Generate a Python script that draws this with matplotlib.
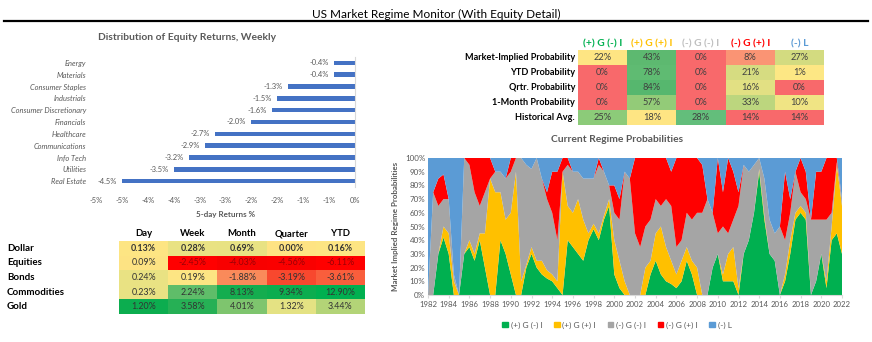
import numpy as np
import matplotlib
matplotlib.use("Agg")
import matplotlib.pyplot as plt
from matplotlib.patches import Rectangle, Patch

plt.rcParams['font.family'] = ['Lato', 'DejaVu Sans']

# ---- data: weekly equity returns ----
sectors = ["Energy", "Materials", "Consumer Staples", "Industrials", "Consumer Discretionary",
           "Financials", "Healthcare", "Communications", "Info Tech", "Utilities", "Real Estate"]
sector_ret = [-0.4, -0.4, -1.3, -1.5, -1.6, -2.0, -2.7, -2.9, -3.2, -3.5, -4.5]
bar_ticks = [-5, -4.5, -4, -3.5, -3, -2.5, -2, -1.5, -1, -0.5, 0]
bar_tick_labels = ["-5%", "-5%", "-4%", "-4%", "-3%", "-3%", "-2%", "-2%", "-1%", "-1%", "0%"]

# ---- data: asset returns table ----
assets = ["Dollar", "Equities", "Bonds", "Commodities", "Gold"]
periods = ["Day", "Week", "Month", "Quarter", "YTD"]
asset_ret = [
    [0.13, 0.28, 0.69, 0.00, 0.16],
    [0.09, -2.45, -4.03, -4.56, -6.11],
    [0.24, 0.19, -1.88, -3.19, -3.61],
    [0.23, 2.24, 8.13, 9.34, 12.90],
    [1.20, 3.58, 4.01, 1.32, 3.44],
]
asset_colors = [
    ["#fde583", "#e9e283", "#e8e283", "#fee383", "#fde583"],
    ["#fde383", "#ff0000", "#f80000", "#fa0000", "#ff0000"],
    ["#e9e283", "#fde583", "#fa8a5a", "#f8482e", "#f95e3c"],
    ["#e9e283", "#5fbd69", "#14ad4f", "#0cad4f", "#00b050"],
    ["#0cad4f", "#26b055", "#7ec56e", "#e4e283", "#b3d477"],
]

# ---- data: regime probability table ----
regimes = ["(+) G (-) I", "(+) G (+) I", "(-) G (-) I", "(-) G (+) I", "(-) L"]
regime_colors = ["#00b050", "#ffc000", "#a5a5a5", "#ff0000", "#5b9bd5"]
header_colors = ["#00b050", "#ffc000", "#bfbfbf", "#ff0000", "#5b9bd5"]
prob_rows = ["Market-Implied Probability", "YTD Probability", "Qrtr. Probability",
             "1-Month Probability", "Historical Avg."]
prob_vals = [
    [22, 43, 0, 8, 27],
    [0, 78, 0, 21, 1],
    [0, 84, 0, 16, 0],
    [0, 57, 0, 33, 10],
    [25, 18, 28, 14, 14],
]
prob_colors = [
    ["#fee583", "#5db970", "#f8696b", "#fa9474", "#d3db80"],
    ["#f8696b", "#5fbb72", "#f8696b", "#d6dc81", "#fde784"],
    ["#f8696b", "#56b76e", "#f8696b", "#e2e083", "#f8696b"],
    ["#f8696b", "#93cb78", "#f8696b", "#bcd67e", "#f0e484"],
    ["#8ccb79", "#fee583", "#63be7b", "#f8696b", "#f8696b"],
]

# ---- data: regime probabilities over time (half-year readings, %) ----
years = np.arange(1982, 2022.01, 0.5)
p_gdi = [0, 0, 30, 42, 30, 0, 0, 30, 35, 25, 40, 20, 0, 0, 40, 30, 15, 0, 0, 20, 30,
         20, 15, 12, 10, 5, 0, 40, 35, 30, 25, 40, 48, 40, 55, 65, 15, 5, 0, 0, 0,
         0, 0, 15, 25, 15, 10, 8, 5, 10, 25, 15, 0, 0, 0, 20, 30, 10, 10, 10, 0,
         30, 40, 60, 90, 55, 30, 25, 0, 10, 30, 55, 60, 55, 0, 10, 30, 5, 40, 45, 30]
p_gii = [0, 0, 0, 8, 15, 10, 0, 0, 5, 5, 5, 25, 85, 75, 35, 25, 45, 90, 10, 2, 5,
         5, 10, 6, 5, 5, 90, 25, 25, 40, 30, 5, 4, 5, 3, 5, 25, 20, 10, 0, 0,
         0, 20, 10, 20, 35, 25, 17, 10, 15, 10, 10, 20, 0, 0, 0, 0, 5, 20, 25, 5,
         0, 0, 0, 2, 3, 0, 0, 0, 5, 10, 5, 5, 5, 0, 0, 0, 5, 10, 50, 35]
p_ddi = [0, 75, 35, 20, 25, 5, 0, 70, 55, 45, 20, 30, 0, 15, 15, 30, 30, 10, 90, 73, 57,
         75, 60, 52, 45, 30, 0, 30, 30, 20, 30, 40, 33, 50, 32, 10, 20, 30, 80, 85, 45,
         35, 30, 30, 25, 15, 35, 40, 20, 15, 25, 30, 40, 60, 70, 40, 15, 35, 15, 20, 60,
         65, 50, 35, 8, 27, 25, 20, 50, 25, 20, 30, 10, 10, 55, 45, 25, 45, 10, 2, 5]
p_dii = [0, 0, 20, 18, 0, 0, 0, 0, 5, 25, 35, 25, 15, 0, 0, 0, 10, 0, 0, 0, 0,
         0, 0, 5, 30, 50, 10, 5, 0, 0, 0, 0, 0, 5, 0, 0, 20, 15, 0, 0, 55,
         65, 50, 45, 30, 35, 30, 25, 65, 60, 40, 45, 40, 35, 0, 0, 55, 25, 55, 35, 10,
         0, 0, 0, 0, 0, 0, 0, 0, 50, 10, 0, 25, 20, 0, 35, 35, 45, 40, 3, 0]
p_liq = [100, 25, 15, 12, 30, 85, 100, 0, 0, 0, 0, 0, 0, 10, 10, 15, 0, 0, 0, 5, 8,
         0, 15, 25, 10, 10, 0, 0, 10, 10, 15, 15, 15, 0, 10, 20, 20, 30, 10, 15, 0,
         0, 0, 0, 0, 0, 0, 10, 0, 0, 0, 0, 0, 5, 30, 40, 0, 25, 0, 10, 25,
         5, 10, 5, 0, 15, 45, 55, 50, 10, 30, 10, 0, 10, 45, 10, 10, 0, 0, 0, 30]
year_ticks = list(range(1982, 2023, 2))

W, H = 872, 342
fig = plt.figure(figsize=(W / 100, H / 100), dpi=100)


def px_axes(x, y, w, h):
    return fig.add_axes([x / W, 1 - (y + h) / H, w / W, h / H])


gray_txt = "#595959"

# title + rule
fig.text(436 / W, 1 - 14 / H, "US Market Regime Monitor (With Equity Detail)",
         ha="center", va="center", fontsize=8.5, color="black")
fig.add_artist(plt.Line2D([4 / W, 868 / W], [1 - 21 / H, 1 - 21 / H], color="black", lw=1.6))

# ---- bar chart ----
ax = px_axes(96, 57, 259, 130)
ypos = np.arange(len(sectors))
ax.barh(ypos, sector_ret, height=0.38, color="#4472c4")
ax.set_ylim(len(sectors) - 0.5, -0.5)
ax.set_xlim(-5, 0)
for yy, v in zip(ypos, sector_ret):
    ax.text(v - 0.1, yy, f"{v:.1f}%", ha="right", va="center", fontsize=5.4, color=gray_txt)
ax.set_yticks(ypos)
ax.set_yticklabels(sectors, fontsize=5.4, style="italic", color=gray_txt)
ax.set_xticks(bar_ticks)
ax.set_xticklabels(bar_tick_labels, fontsize=5.4, color=gray_txt)
ax.tick_params(length=0, pad=7)
for s in ["left", "top", "bottom"]:
    ax.spines[s].set_visible(False)
ax.spines["right"].set_color("#d9d9d9")
ax.set_xlabel("5-day Returns %", fontsize=5.8, fontweight="bold", color=gray_txt, labelpad=5)
fig.text(187 / W, 1 - 38 / H, "Distribution of Equity Returns, Weekly", ha="center", va="center",
         fontsize=7.4, fontweight="bold", color=gray_txt)

# ---- asset returns table ----
ax = px_axes(119, 241, 246, 73)
ax.set_xlim(0, 5)
ax.set_ylim(5, 0)
ax.axis("off")
for r in range(5):
    ax.text(-2.28, r + 0.5, assets[r], ha="left", va="center", fontsize=7, fontweight="bold")
    for c in range(5):
        ax.add_patch(Rectangle((c, r), 1, 1, color=asset_colors[r][c], lw=0))
        tcol = "#9c0006" if asset_colors[r][c] in ("#ff0000", "#f80000", "#fa0000") else "#333333"
        ax.text(c + 0.5, r + 0.5, f"{asset_ret[r][c]:.2f}%", ha="center", va="center",
                fontsize=6.4, color=tcol, fontweight="bold" if r == 0 else "normal")
for c in range(5):
    ax.text(c + 0.5, -0.5, periods[c], ha="center", va="center", fontsize=6.8, fontweight="bold")

# ---- regime probability table ----
ax = px_axes(578, 50, 246, 75)
ax.set_xlim(0, 5)
ax.set_ylim(5, 0)
ax.axis("off")
for r in range(5):
    ax.text(-0.06, r + 0.5, prob_rows[r], ha="right", va="center", fontsize=6.6, fontweight="bold")
    for c in range(5):
        ax.add_patch(Rectangle((c, r), 1, 1, color=prob_colors[r][c], lw=0))
        ax.text(c + 0.5, r + 0.5, f"{prob_vals[r][c]}%", ha="center", va="center",
                fontsize=6.7, color="#404040")
for c in range(5):
    ax.text(c + 0.5, -0.42, regimes[c], ha="center", va="center", fontsize=7.4,
            fontweight="bold", color=header_colors[c])

# ---- regime probabilities area chart ----
ax = px_axes(428, 158, 414, 137)
ax.stackplot(years, p_gdi, p_gii, p_ddi, p_dii, p_liq, colors=regime_colors, lw=0)
ax.set_xlim(1982, 2022)
ax.set_ylim(0, 100)
ax.set_yticks(range(0, 101, 10))
ax.set_yticklabels([f"{v}%" for v in range(0, 101, 10)], fontsize=5.8, color=gray_txt)
ax.set_xticks(year_ticks)
ax.set_xticklabels([str(y) for y in year_ticks], fontsize=5.6, color=gray_txt)
ax.tick_params(axis="y", length=0, pad=2)
ax.tick_params(axis="x", length=2, color="#d9d9d9", pad=2)
for s in ["left", "top", "right"]:
    ax.spines[s].set_visible(False)
ax.spines["bottom"].set_color("#d9d9d9")
ax.set_ylabel("Market Implied Regime Probabilities", fontsize=5.8, fontweight="bold",
              color=gray_txt, labelpad=4)
fig.text(617 / W, 1 - 139 / H, "Current Regime Probabilities", ha="center", va="center",
         fontsize=7.4, fontweight="bold", color=gray_txt)
handles = [Patch(color=col, label=lab) for col, lab in zip(regime_colors, regimes)]
fig.legend(handles=handles, loc="center", bbox_to_anchor=(617 / W, 1 - 325 / H), ncol=5,
           frameon=False, fontsize=6, handlelength=0.7, handleheight=0.7,
           handletextpad=0.3, columnspacing=1.4, labelcolor=gray_txt)

fig.savefig("out.png", dpi=100)
